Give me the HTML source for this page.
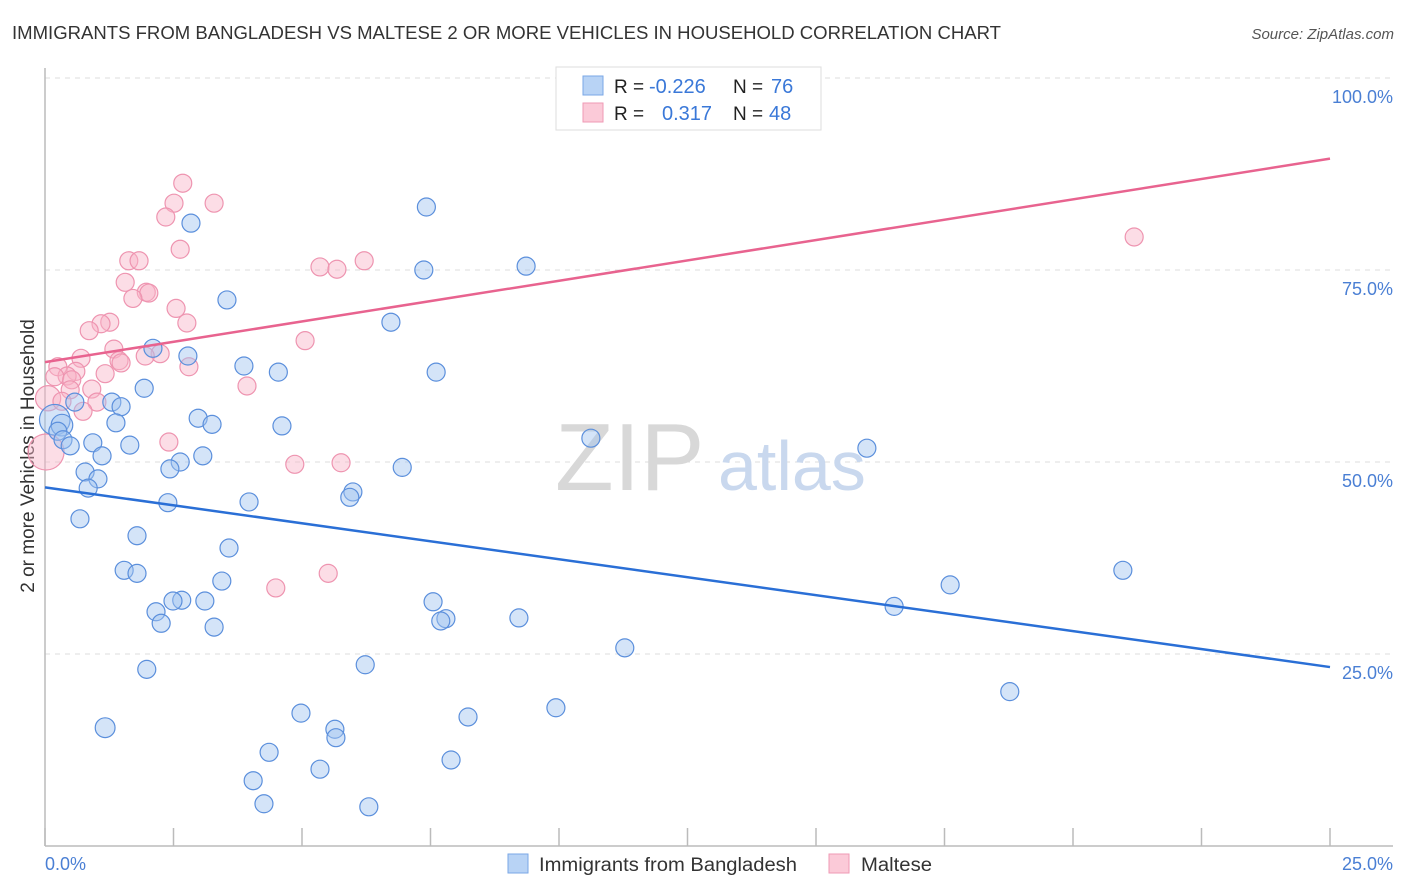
<!DOCTYPE html>
<html><head><meta charset="utf-8">
<style>
body{margin:0;background:#fff;font-family:"Liberation Sans",sans-serif;}
#wrap{position:relative;width:1406px;height:892px;overflow:hidden;}
svg text{font-family:"Liberation Sans",sans-serif;}
</style></head>
<body>
<div id="wrap">
<svg id="chart" width="1406" height="892">
  <text x="12" y="39" font-size="18" fill="#333" textLength="989" lengthAdjust="spacingAndGlyphs">IMMIGRANTS FROM BANGLADESH VS MALTESE 2 OR MORE VEHICLES IN HOUSEHOLD CORRELATION CHART</text>
  <text x="1394" y="39" font-size="15" fill="#555" font-style="italic" text-anchor="end">Source: ZipAtlas.com</text>
  <g id="grid"></g>
  <g id="watermark">
    <text x="555" y="490" font-size="96" fill="#d8d8d8" font-family="Liberation Serif, serif">ZIP</text>
    <text x="718" y="490" font-size="70" fill="#c9d8ee">atlas</text>
  </g>
  <line x1="45" y1="68" x2="45" y2="846" stroke="#bbb" stroke-width="1.5"/>
  <line x1="45" y1="846" x2="1393" y2="846" stroke="#bbb" stroke-width="1.5"/>
  <g id="xticks"></g>
  <g id="ylabels"></g>
  <text x="45" y="870" font-size="18" fill="#4a7fd4">0.0%</text>
  <text x="1393" y="870" font-size="18" fill="#4a7fd4" text-anchor="end">25.0%</text>
  <text transform="translate(34,456) rotate(-90)" font-size="19" fill="#333" text-anchor="middle">2 or more Vehicles in Household</text>
  <g id="pinkpts"></g>
  <g id="bluepts"></g>
  <g id="lines"></g>
  <g>
    <rect x="556" y="67" width="265" height="63" fill="#fff" stroke="#ddd"/>
    <rect x="583" y="76" width="20" height="19" fill="#b8d3f5" stroke="#7aa7e6"/>
    <rect x="583" y="103" width="20" height="19" fill="#fbcad8" stroke="#ef9ab5"/>
    <text x="614" y="93" font-size="19" fill="#222">R =</text>
    <text x="649" y="93" font-size="20" fill="#3a78d8">-0.226</text>
    <text x="733" y="93" font-size="19" fill="#222">N =</text>
    <text x="771" y="93" font-size="20" fill="#3a78d8">76</text>
    <text x="614" y="120" font-size="19" fill="#222">R =</text>
    <text x="662" y="120" font-size="20" fill="#3a78d8">0.317</text>
    <text x="733" y="120" font-size="19" fill="#222">N =</text>
    <text x="769" y="120" font-size="20" fill="#3a78d8">48</text>
  </g>
  <g>
    <rect x="508" y="854" width="20" height="19" fill="#b8d3f5" stroke="#7aa7e6"/>
    <text x="539" y="871" font-size="19" fill="#333" textLength="258" lengthAdjust="spacingAndGlyphs">Immigrants from Bangladesh</text>
    <rect x="829" y="854" width="20" height="19" fill="#fbcad8" stroke="#ef9ab5"/>
    <text x="861" y="871" font-size="19" fill="#333" textLength="71" lengthAdjust="spacingAndGlyphs">Maltese</text>
  </g>
</svg>
</div>
<script>
const yTicks=[25,50,75,100];
const yTickLabels=["25.0%","50.0%","75.0%","100.0%"];
const xTicks=[0,2.5,5,7.5,10,12.5,15,17.5,20,22.5,25];
const blueX=[2.84,7.42,3.54,7.37,9.36,6.73,2.10,2.78,3.87,4.54,7.61,1.93,0.58,1.30,1.48,2.98,1.38,3.25,4.61,0.19,0.33,0.25,0.35,0.93,0.49,1.65,10.62,15.99,1.11,3.07,2.63,2.43,6.95,0.78,1.03,0.84,5.99,5.93,2.39,3.97,0.68,1.79,3.58,1.54,1.79,3.44,20.97,17.61,2.66,2.49,3.11,7.55,2.16,16.52,2.26,3.29,7.80,7.70,9.22,11.28,1.98,6.23,18.77,9.94,1.17,4.98,8.23,5.64,5.66,4.36,5.35,7.90,4.05,4.26,6.30];
const blueY=[81.1,83.2,71.1,75.0,75.5,68.2,64.8,63.8,62.5,61.7,61.7,59.6,57.8,57.8,57.2,55.7,55.1,54.9,54.7,55.5,54.8,54.0,52.9,52.5,52.1,52.2,53.1,51.8,50.8,50.8,50.0,49.1,49.3,48.7,47.8,46.6,46.1,45.4,44.7,44.8,42.6,40.4,38.8,35.9,35.5,34.5,35.9,34.0,32.0,31.9,31.9,31.8,30.5,31.2,29.0,28.5,29.6,29.3,29.7,25.8,23.0,23.6,20.1,18.0,15.4,17.3,16.8,15.2,14.1,12.2,10.0,11.2,8.5,5.5,5.1];
const blueSize=[1,1,1,1,1,1,1,1,1,1,1,1,1,1,1,1,1,1,1,1.7,1.2,1,1,1,1,1,1,1,1,1,1,1,1,1,1,1,1,1,1,1,1,1,1,1,1,1,1,1,1,1,1,1,1,1,1,1,1,1,1,1,1,1,1,1,1.1,1,1,1,1,1,1,1,1,1,1];
const pinkX=[2.68,2.51,3.29,2.35,2.63,1.63,1.83,5.35,5.68,6.21,21.19,1.56,1.97,2.02,1.71,2.55,2.76,1.26,1.09,0.86,5.06,1.34,2.24,1.95,1.44,1.48,0.70,0.25,0.60,2.80,1.17,0.43,0.19,0.52,3.93,0.91,0.49,0.06,0.33,1.01,0.74,0.02,2.41,4.86,5.76,4.49,5.51];
const pinkY=[86.3,83.7,83.7,81.9,77.7,76.2,76.2,75.4,75.1,76.2,79.3,73.4,72.1,72.0,71.3,70.0,68.1,68.2,68.0,67.1,65.8,64.7,64.1,63.8,63.2,62.9,63.5,62.4,61.8,62.4,61.5,61.2,61.1,60.7,59.9,59.5,59.4,58.3,57.9,57.8,56.6,51.3,52.6,49.7,49.9,33.6,35.5];
const pinkSize=[1,1,1,1,1,1,1,1,1,1,1,1,1,1,1,1,1,1,1,1,1,1,1,1,1,1,1,1,1,1,1,1,1,1,1,1,1,1.4,1,1,1,2,1,1,1,1,1];
const blueTrend=[46.7,23.3];
const pinkTrend=[63.0,89.5];

const NS="http://www.w3.org/2000/svg";
const X=v=>45+v/25*1285;
const Y=v=>846-v/100*768;
function mk(tag,attrs,parent){const e=document.createElementNS(NS,tag);for(const k in attrs)e.setAttribute(k,attrs[k]);parent.appendChild(e);return e;}
const grid=document.getElementById('grid'),yl=document.getElementById('ylabels'),xt=document.getElementById('xticks');
yTicks.forEach((t,i)=>{
  const l=mk('line',{x1:45,x2:1393,y1:Y(t),y2:Y(t),stroke:'#ddd','stroke-dasharray':'5,5'},grid);
  
  
  const tx=mk('text',{x:1393,y:Y(t)+25,'font-size':18,fill:'#4a7fd4','text-anchor':'end'},yl);
  tx.textContent=yTickLabels[i];
  
  
});
xTicks.forEach(t=>{
  const l=mk('line',{x1:X(t),x2:X(t),y1:828,y2:846,stroke:'#bbb','stroke-width':1.5},xt);
  
  
});
function pts(xs,ys,ss,g,fill,stroke,name){
  xs.forEach((x,i)=>{
    const c=mk('circle',{cx:X(x),cy:Y(ys[i]),r:9*ss[i],fill:fill,stroke:stroke,'stroke-width':1.2},g);
    
    
  });
}
pts(pinkX,pinkY,pinkSize,document.getElementById('pinkpts'),'rgba(248,180,200,0.45)','#ee94b0','maltese-point');
pts(blueX,blueY,blueSize,document.getElementById('bluepts'),'rgba(160,195,240,0.45)','#5b8fdc','bangladesh-point');
const lg=document.getElementById('lines');
const bl=mk('line',{x1:X(0),y1:Y(blueTrend[0]),x2:X(25),y2:Y(blueTrend[1]),stroke:'#2a6fd6','stroke-width':2.5},lg);


const pl=mk('line',{x1:X(0),y1:Y(pinkTrend[0]),x2:X(25),y2:Y(pinkTrend[1]),stroke:'#e8638f','stroke-width':2.5},lg);


</script>
</body></html>
